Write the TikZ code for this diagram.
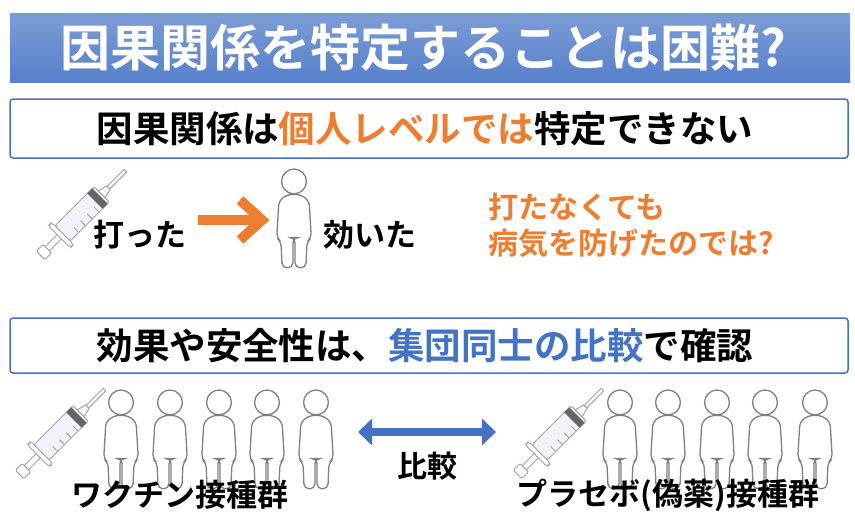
\documentclass[tikz,border=0pt]{standalone}
\usepackage{fontspec}
\setmainfont{Noto Sans CJK JP Bold}
\usetikzlibrary{arrows.meta,calc}
\definecolor{bl}{HTML}{4472C4}
\definecolor{orng}{HTML}{ED7D31}
\definecolor{gr}{HTML}{7F7F7F}
\tikzset{
  box/.style={draw=bl,line width=1.5pt,rounded corners=3pt},
  txt/.style={inner sep=0pt,font=\bfseries},
  person/.pic={
    \begin{scope}[scale=1.08]
    \draw[gr,line width=1.3pt,fill=white] (0,-82) circle (11.5);
    \draw[gr,line width=1.3pt,fill=white,rounded corners=5pt]
      (-6,-70) -- (-14,-64) -- (-16,-30) -- (-12,-26) -- (-11,-2) -- (-1,-2) -- (-1,-30)
      -- (1,-30) -- (1,-2) -- (11,-2) -- (12,-26) -- (16,-30) -- (14,-64) -- (6,-70) -- cycle;
    \end{scope}
  },
  syringe/.pic={
    \begin{scope}[rotate=45,scale=1.2,line width=1pt,draw=gr!70]
      \draw[fill=white,rounded corners=2pt] (-50,-5) rectangle (-42,5);
      \draw[fill=white] (-42,-2.5) rectangle (-28,2.5);
      \draw[fill=white,rounded corners=3pt] (-28,-13) rectangle (-24,13);
      \draw[fill=bl!8,rounded corners=2pt] (-24,-9) rectangle (22,9);
      \fill[gr!80!black] (14,-9) rectangle (20,9);
      \foreach \t in {-14,-6,2,10} \draw (\t,9) -- (\t,3);
      \draw[fill=white] (22,-4) -- (30,-2) -- (30,2) -- (22,4) -- cycle;
      \draw[fill=white] (30,-1.5) rectangle (50,1.5);
    \end{scope}
  }
}
\begin{document}
\begin{tikzpicture}[x=1pt,y=-1pt]
\useasboundingbox (0,0) rectangle (855,523);
\shade[top color=bl!70!white,bottom color=bl!90!white] (10,13) rectangle (850,82);
\node[txt,white,font=\fontsize{50}{50}\selectfont] (title) at (423,48) {因果関係を特定することは困難?};
\draw[box] (10,99) rectangle (848,158);
\node[txt,font=\fontsize{36.5}{36.5}\selectfont] (t1) at (425,129) {因果関係は\textcolor{orng}{個人レベルでは}特定できない};
\pic at (83,213) {syringe};
\node[txt,font=\fontsize{31}{31}\selectfont] (ut) at (140,235) {打った};
\node (a1) at (198,220) {}; \node (a2) at (265,220) {};
\draw[orng,line width=10pt] (a1.center) -- ($(a2.center)+(-10,0)$);
\draw[orng,line width=10pt,line cap=butt,line join=miter] (240,200) -- (262,220) -- (240,240);
\pic at (294,270) {person};
\node[txt,font=\fontsize{31}{31}\selectfont] (kiita) at (370,235) {効いた};
\node[txt,orng,font=\fontsize{30}{30}\selectfont,align=left,anchor=west] (q) at (488,225) {打たなくても\\[6pt]病気を防げたのでは?};
\draw[box] (10,318) rectangle (848,373);
\node[txt,font=\fontsize{36.5}{36.5}\selectfont] (t2) at (425,346) {効果や安全性は、\textcolor{bl}{集団同士の比較}で確認};
\pic at (62,432) {syringe};
\foreach \x in {121,170,219,267,316} \pic at (\x,491) {person};
\node[txt,font=\fontsize{31}{31}\selectfont] (g1) at (180,495) {ワクチン接種群};
\node (b1) at (358,432) {}; \node (b2) at (496,432) {};
\draw[bl,line width=8pt,{Triangle[length=14pt,width=26pt]}-{Triangle[length=14pt,width=26pt]}] (b1.center) -- (b2.center);
\node[txt,font=\fontsize{30}{30}\selectfont] (hk) at (427,466) {比較};
\pic at (560,432) {syringe};
\foreach \x in {620,668,717,765,815} \pic at (\x,491) {person};
\node[txt,font=\fontsize{31}{31}\selectfont] (g2) at (668,495) {プラセボ(偽薬)接種群};
\end{tikzpicture}
\end{document}
